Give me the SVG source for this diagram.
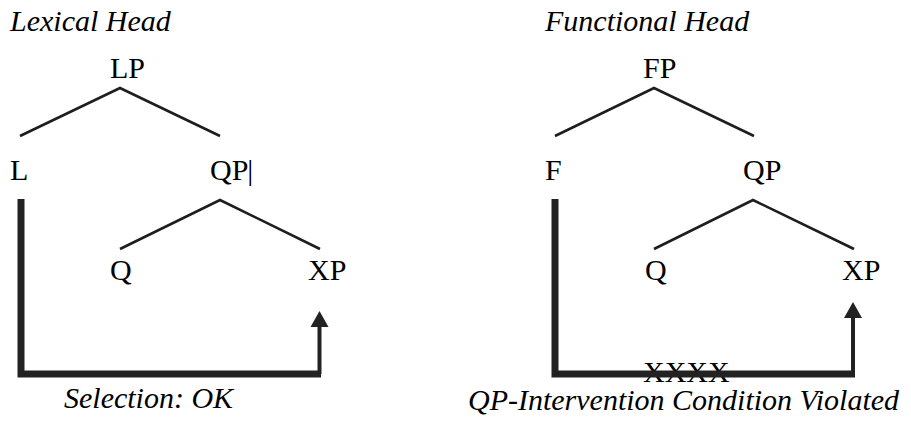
<svg xmlns="http://www.w3.org/2000/svg" width="911" height="423" viewBox="0 0 911 423">
<style>
.t{font-family:"Liberation Serif","Times New Roman",serif;font-size:30px;fill:#000}
.i{font-style:italic}
.br{fill:none;stroke:#1e1e1e;stroke-width:2.6;stroke-linecap:butt}
.thick{fill:none;stroke:#222;stroke-width:7;stroke-linejoin:miter}
.stem{fill:none;stroke:#222;stroke-width:4}
.head{fill:#222}
</style>
<rect width="911" height="423" fill="#fff"/>
<g id="titles">
<text class="t i" x="10" y="31">Lexical Head</text>
<text class="t i" x="545" y="31">Functional Head</text>
</g>
<g id="LP"><text class="t" x="110" y="78">LP</text></g>
<g id="L"><text class="t" x="10" y="180">L</text></g>
<g id="QP1"><text class="t" x="210" y="180">QP<tspan dx="-1">|</tspan></text></g>
<g id="Q1"><text class="t" x="110" y="280">Q</text></g>
<g id="XP1"><text class="t" x="308" y="280">XP</text></g>
<g id="FP"><text class="t" x="643" y="78">FP</text></g>
<g id="F"><text class="t" x="545" y="180">F</text></g>
<g id="QP2"><text class="t" x="743" y="180">QP</text></g>
<g id="Q2"><text class="t" x="645" y="280">Q</text></g>
<g id="XP2"><text class="t" x="842" y="280">XP</text></g>
<g id="XXXX"><text class="t" x="643" y="382">XXXX</text></g>
<g id="connectors">
<polyline class="br" points="20,136 120,88 220,136"/>
<polyline class="br" points="120,249 220,200 320,249"/>
<polyline class="br" points="555,136 654,88 754,136"/>
<polyline class="br" points="654,249 753,200 854,249"/>
<path class="thick" d="M21 199 V374 H321"/>
<path class="stem" d="M319.5 374 V325"/>
<polygon class="head" points="319.5,311 310.5,327 328.5,327"/>
<path class="thick" d="M555 199 V374 H855"/>
<path class="stem" d="M853 374 V316"/>
<polygon class="head" points="853,302 844,318 862,318"/>
</g>
<g id="captions">
<text class="t i" x="64" y="408">Selection: OK</text>
<text class="t i" x="468" y="410">QP-Intervention Condition Violated</text>
</g>
</svg>
